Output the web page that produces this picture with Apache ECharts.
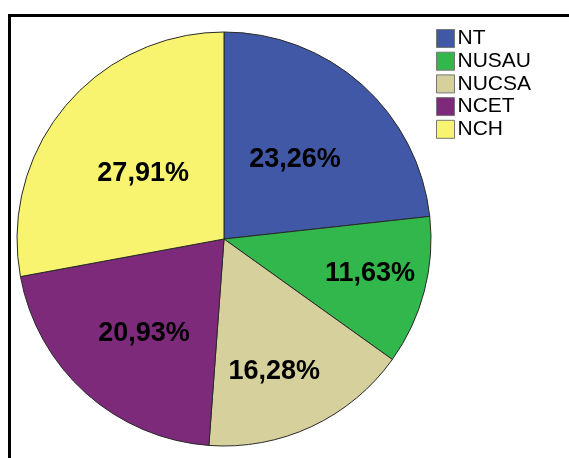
<!DOCTYPE html>
<html>
<head>
<meta charset="utf-8">
<style>
  html, body { margin: 0; padding: 0; background: #ffffff; }
  #chart { width: 569px; height: 458px; }
</style>
<script src="https://cdn.jsdelivr.net/npm/echarts@6/dist/echarts.min.js"></script>
</head>
<body>
<div id="chart"></div>
<script>
// Share of each group (percent)
const categories = ['NT', 'NUSAU', 'NUCSA', 'NCET', 'NCH'];
const shares = [23.26, 11.63, 16.28, 20.93, 27.91];

// Slice fills
const sliceColors = ['#4058a6', '#31b74b', '#d5d09c', '#7d2a7b', '#f8f470'];
// Nudges for the in-slice percentage labels
const labelNudge = [[0, 0], [43, 8], [5, 36], [-9, 15], [1, 3]];

const chart = echarts.init(document.getElementById('chart'), null, { renderer: 'canvas' });

const fmt = v => v.toFixed(2).replace('.', ',') + '%';

chart.setOption({
  animation: false,
  backgroundColor: '#ffffff',
  color: sliceColors,
  legend: {
    orient: 'vertical',
    left: 431,
    top: 23,
    itemWidth: 18,
    itemHeight: 18,
    itemGap: 1.7,
    icon: 'rect',
    selectedMode: false,
    itemStyle: { borderColor: '#777777', borderWidth: 1 },
    textStyle: {
      fontFamily: 'Liberation Sans, Arial, sans-serif',
      fontSize: 21,
      lineHeight: 18,
      color: '#000000',
      padding: [0, 0, 0, -2]
    },
    data: categories
  },
  graphic: [
    { type: 'rect', shape: { x: 8, y: 14, width: 561, height: 3 }, style: { fill: '#000000' } },
    { type: 'rect', shape: { x: 8, y: 14, width: 3, height: 444 }, style: { fill: '#000000' } }
  ],
  series: [{
    type: 'pie',
    center: [224, 239],
    radius: 207,
    startAngle: 90,
    clockwise: true,
    silent: true,
    itemStyle: { borderColor: '#2a2a2a', borderWidth: 1 },
    label: {
      show: true,
      position: 'inside',
      formatter: p => fmt(p.value),
      fontFamily: 'Liberation Sans, Arial, sans-serif',
      fontWeight: 'bold',
      fontSize: 27,
      color: '#000000'
    },
    labelLine: { show: false },
    labelLayout: p => ({ dx: labelNudge[p.dataIndex][0], dy: labelNudge[p.dataIndex][1] }),
    data: categories.map((name, i) => ({ name: name, value: shares[i] }))
  }]
});
</script>
</body>
</html>
